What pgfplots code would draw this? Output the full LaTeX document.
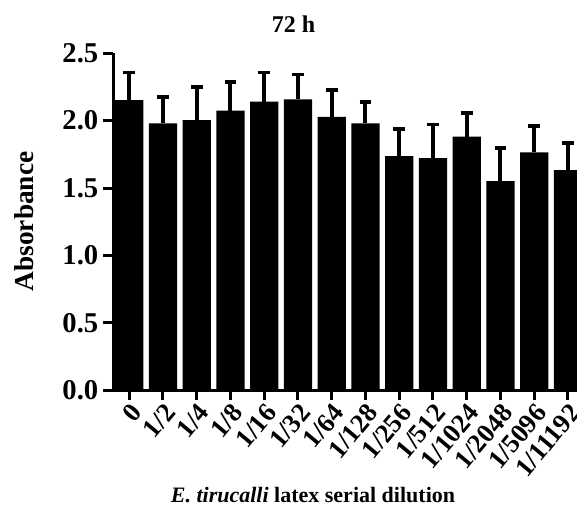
\documentclass[border=0pt]{standalone}
\usepackage{fontspec}
\setmainfont{Liberation Serif}
\usepackage{pgfplots}
\pgfplotsset{compat=1.18}

\begin{document}
\begin{tikzpicture}
% page frame, 1 px of the reference = 0.75pt
\path[use as bounding box] (0,0) rectangle (432.75pt,381pt);
\begin{axis}[
  at={(84.75pt,88.5pt)}, anchor=south west,
  scale only axis,
  width=356.4pt, height=252.5pt,
  xmin=-0.48, xmax=13.6,
  ymin=0, ymax=2.5,
  enlargelimits=false,
  axis x line=bottom, axis y line=left,
  axis line style={-, line width=2.25pt},
  ytick={0,0.5,...,2.5},
  /pgf/number format/fixed,
  /pgf/number format/fixed zerofill,
  /pgf/number format/precision=1,
  /pgf/number format/assume math mode=true,
  y tick label style={font=\fontsize{21.5pt}{24pt}\selectfont\bfseries},
  xtick=data,
  xticklabels={0,1/2,1/4,1/8,1/16,1/32,1/64,1/128,1/256,1/512,1/1024,1/2048,1/5096,1/11192},
  x tick label style={rotate=50, anchor=north east, inner sep=1pt,
    font=\fontsize{20pt}{22pt}\selectfont\bfseries},
  tick align=outside,
  major tick length=7.5pt,
  tick style={line width=2.25pt, black},
  ybar, bar width=21.2pt, bar shift=0pt,
]
\addplot[fill=black, draw=none,
  /pgfplots/error bars/y dir=plus,
  /pgfplots/error bars/y explicit,
  /pgfplots/error bars/error mark=|,
  /pgfplots/error bars/error bar style={solid, draw=black, line width=3pt},
  /pgfplots/error bars/error mark options={solid, draw=black, line width=2.9pt, mark size=4.4pt}]
  table[x=x, y=y, y error=e] {
x y e
0 2.153 0.205
1 1.980 0.198
2 2.004 0.243
3 2.074 0.210
4 2.141 0.217
5 2.158 0.185
6 2.029 0.198
7 1.980 0.158
8 1.737 0.198
9 1.722 0.250
10 1.881 0.173
11 1.552 0.242
12 1.764 0.194
13 1.633 0.203
};
\end{axis}
\node[anchor=base, inner sep=0pt, font=\fontsize{18pt}{21pt}\selectfont\bfseries] at (220.1pt,356.25pt) {72 h};
\node[anchor=base, inner sep=0pt, rotate=90, font=\fontsize{20.5pt}{24pt}\selectfont\bfseries] at (24.75pt,214.9pt) {Absorbance};
\node[anchor=base, inner sep=0pt, font=\fontsize{16.5pt}{20pt}\selectfont\bfseries] at (234.75pt,4pt) {\textit{E. tirucalli} latex serial dilution};
\end{tikzpicture}
\end{document}
